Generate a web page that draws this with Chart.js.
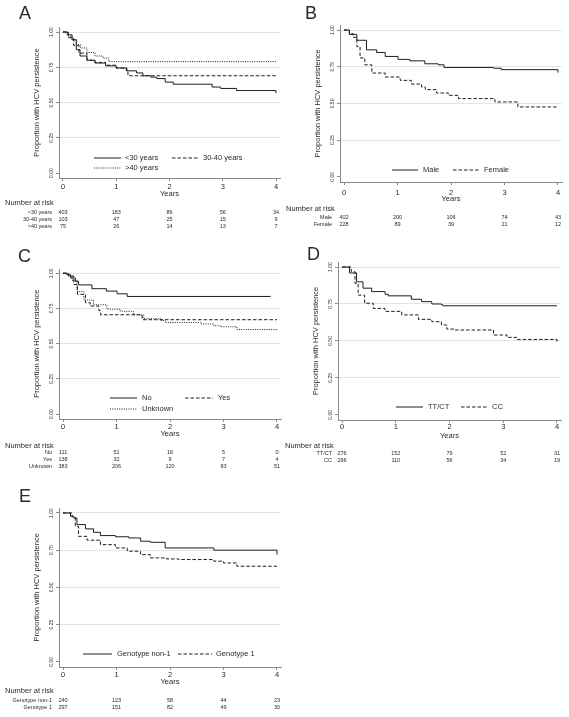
<!DOCTYPE html>
<html>
<head>
<meta charset="utf-8">
<script src="https://cdn.jsdelivr.net/npm/chart.js@4.4.0/dist/chart.umd.min.js"></script>
<style>
    body { margin: 0; background: #fff; width: 569px; height: 717px; position: relative; overflow: hidden; }
    canvas { position: absolute; }
</style>
</head>
<body>
<canvas id="chartA" width="285" height="240" style="left:0;top:0"></canvas>
<canvas id="chartB" width="284" height="240" style="left:285px;top:0"></canvas>
<canvas id="chartC" width="285" height="245" style="left:0;top:240px"></canvas>
<canvas id="chartD" width="284" height="245" style="left:285px;top:240px"></canvas>
<canvas id="chartE" width="285" height="232" style="left:0;top:485px"></canvas>
<script>
// axis ticks
const yearTicks = [0, 1, 2, 3, 4];
const yTicks = [0, 0.25, 0.5, 0.75, 1];
const yTickLabels = ['0.00', '0.25', '0.50', '0.75', '1.00'];

// A - age
const under30Years = [0, 0.08, 0.17, 0.25, 0.32, 0.45, 0.6, 0.8, 1.0, 1.2, 1.38, 1.5, 1.65, 1.76, 1.92, 2.07, 2.8, 2.96, 3.26, 4.0];
const under30Surv = [1, 0.98, 0.945, 0.875, 0.83, 0.80, 0.78, 0.76, 0.745, 0.725, 0.71, 0.69, 0.68, 0.67, 0.645, 0.63, 0.61, 0.60, 0.585, 0.567];
const age3040Years = [0, 0.1, 0.2, 0.3, 0.45, 0.6, 0.8, 1.0, 1.19, 1.22, 4.0];
const age3040Surv = [1, 0.96, 0.905, 0.85, 0.80, 0.785, 0.765, 0.745, 0.72, 0.69, 0.69];
const over40Years = [0, 0.1, 0.17, 0.25, 0.33, 0.45, 0.6, 0.75, 0.86, 4.0];
const over40Surv = [1, 0.97, 0.945, 0.91, 0.887, 0.855, 0.83, 0.815, 0.79, 0.79];
const riskUnder30 = [403, 183, 86, 56, 34];
const risk3040 = [103, 47, 25, 15, 9];
const riskOver40 = [75, 26, 14, 13, 7];

// B - sex
const maleYears = [0, 0.1, 0.24, 0.42, 0.61, 0.77, 1.01, 1.23, 1.51, 1.76, 1.87, 2.79, 2.94, 4.0];
const maleSurv = [1, 0.97, 0.93, 0.865, 0.847, 0.82, 0.80, 0.79, 0.77, 0.763, 0.745, 0.74, 0.73, 0.71];
const femaleYears = [0, 0.1, 0.17, 0.24, 0.3, 0.39, 0.52, 0.77, 1.05, 1.26, 1.45, 1.52, 1.73, 1.95, 2.14, 2.82, 3.25, 4.0];
const femaleSurv = [1, 0.975, 0.95, 0.887, 0.81, 0.763, 0.707, 0.68, 0.657, 0.632, 0.612, 0.594, 0.571, 0.555, 0.533, 0.51, 0.476, 0.476];
const riskMale = [402, 200, 106, 74, 43];
const riskFemale = [228, 89, 39, 21, 12];

// C - No / Yes / Unknown
const noYears = [0, 0.07, 0.14, 0.23, 0.29, 0.54, 0.81, 1.01, 1.2, 3.88];
const noSurv = [1, 0.99, 0.967, 0.943, 0.917, 0.89, 0.873, 0.854, 0.835, 0.835];
const yesYears = [0, 0.1, 0.2, 0.27, 0.42, 0.51, 0.67, 0.7, 1.48, 4.0];
const yesSurv = [1, 0.98, 0.92, 0.85, 0.79, 0.767, 0.735, 0.705, 0.67, 0.67];
const unknownYears = [0, 0.1, 0.17, 0.26, 0.39, 0.57, 0.82, 1.07, 1.32, 1.51, 1.82, 1.91, 2.57, 2.82, 2.94, 3.25, 4.0];
const unknownSurv = [1, 0.98, 0.95, 0.87, 0.81, 0.776, 0.745, 0.73, 0.705, 0.677, 0.665, 0.65, 0.64, 0.627, 0.62, 0.60, 0.60];
const riskNo = [111, 51, 16, 5, 0];
const riskYes = [138, 32, 9, 7, 4];
const riskUnknown = [383, 206, 120, 83, 51];

// D - TT/CT vs CC
const ttctYears = [0, 0.14, 0.27, 0.39, 0.55, 0.8, 0.86, 1.29, 1.48, 1.67, 1.85, 1.88, 4.0];
const ttctSurv = [1, 0.96, 0.9, 0.857, 0.834, 0.816, 0.805, 0.782, 0.766, 0.75, 0.744, 0.738, 0.738];
const ccYears = [0, 0.17, 0.24, 0.3, 0.42, 0.58, 0.8, 1.11, 1.42, 1.67, 1.85, 1.95, 2.1, 2.82, 3.07, 3.25, 4.0];
const ccSurv = [1, 0.97, 0.89, 0.81, 0.755, 0.72, 0.70, 0.676, 0.646, 0.63, 0.608, 0.58, 0.574, 0.54, 0.524, 0.51, 0.494];
const riskTtct = [276, 152, 79, 52, 31];
const riskCc = [266, 110, 56, 34, 19];

// E - genotype
const nonG1Years = [0, 0.14, 0.2, 0.26, 0.42, 0.57, 0.7, 0.98, 1.23, 1.45, 1.63, 1.91, 2.82, 4.0];
const nonG1Surv = [1, 0.978, 0.966, 0.922, 0.893, 0.87, 0.848, 0.84, 0.832, 0.81, 0.803, 0.765, 0.75, 0.72];
const g1Years = [0, 0.17, 0.23, 0.29, 0.45, 0.7, 0.98, 1.2, 1.45, 1.63, 1.94, 2.16, 2.82, 3.0, 3.25, 4.0];
const g1Surv = [1, 0.975, 0.91, 0.843, 0.817, 0.787, 0.765, 0.743, 0.72, 0.698, 0.691, 0.687, 0.676, 0.664, 0.642, 0.642];
const riskNonG1 = [240, 123, 58, 44, 23];
const riskG1 = [297, 151, 82, 49, 30];

const SOLID = [];
const DASHED = [3.5, 2];
const DOTTED = [1, 1.3];
const FONT = '"Liberation Sans", Arial, sans-serif';
const textColor = '#2a2a2a';
const axisColor = '#8a8a8a';
const gridColor = '#e4e4e4';
const lineColor = '#1e1e1e';

const panels = [
    {
        id: 'chartA', letter: 'A', box: [0, 0], area: { l: 59, t: 27.8, r: 280, b: 178 },
        letterPos: [19, 19], tickY: 187, yearsY: 194, header: [5, 203], rowsY: [212, 219, 226], labelRight: 52,
        series: [
            { label: '<30 years', t: under30Years, s: under30Surv, dash: SOLID, risk: riskUnder30, leg: [94, 121, 158, 125] },
            { label: '30-40 years', t: age3040Years, s: age3040Surv, dash: DASHED, risk: risk3040, leg: [172, 198, 158, 203] },
            { label: '>40 years', t: over40Years, s: over40Surv, dash: DOTTED, risk: riskOver40, leg: [94, 121, 168, 125] }
        ]
    },
    {
        id: 'chartB', letter: 'B', box: [285, 0], area: { l: 340, t: 25.6, r: 562, b: 182 },
        letterPos: [305, 19], tickY: 193, yearsY: 199, header: [286, 209], rowsY: [217, 224], labelRight: 332,
        series: [
            { label: 'Male', t: maleYears, s: maleSurv, dash: SOLID, risk: riskMale, leg: [392, 418, 170, 423] },
            { label: 'Female', t: femaleYears, s: femaleSurv, dash: DASHED, risk: riskFemale, leg: [453, 480, 170, 484] }
        ]
    },
    {
        id: 'chartC', letter: 'C', box: [0, 240], area: { l: 59, t: 269, r: 281, b: 419 },
        letterPos: [18, 262], tickY: 427, yearsY: 434, header: [5, 446], rowsY: [452.5, 459.5, 466], labelRight: 52,
        series: [
            { label: 'No', t: noYears, s: noSurv, dash: SOLID, risk: riskNo, leg: [110, 137, 398, 142] },
            { label: 'Yes', t: yesYears, s: yesSurv, dash: DASHED, risk: riskYes, leg: [185, 213, 398, 218] },
            { label: 'Unknown', t: unknownYears, s: unknownSurv, dash: DOTTED, risk: riskUnknown, leg: [110, 137, 409, 142] }
        ]
    },
    {
        id: 'chartD', letter: 'D', box: [285, 240], area: { l: 338, t: 262.6, r: 561, b: 420 },
        letterPos: [307, 260], tickY: 427, yearsY: 436, header: [285, 446], rowsY: [453, 460], labelRight: 332,
        series: [
            { label: 'TT/CT', t: ttctYears, s: ttctSurv, dash: SOLID, risk: riskTtct, leg: [396, 423, 407, 428] },
            { label: 'CC', t: ccYears, s: ccSurv, dash: DASHED, risk: riskCc, leg: [461, 488, 407, 492] }
        ]
    },
    {
        id: 'chartE', letter: 'E', box: [0, 485], area: { l: 59, t: 508.5, r: 281, b: 667 },
        letterPos: [19, 502], tickY: 675, yearsY: 682, header: [5, 691], rowsY: [700, 707], labelRight: 52,
        series: [
            { label: 'Genotype non-1', t: nonG1Years, s: nonG1Surv, dash: SOLID, risk: riskNonG1, leg: [83, 112, 654, 117] },
            { label: 'Genotype 1', t: g1Years, s: g1Surv, dash: DASHED, risk: riskG1, leg: [178, 212, 654, 216] }
        ]
    }
];

// draws letter, tick labels, titles, legend and number-at-risk table
const kmDecor = {
    id: 'kmDecor',
    afterDraw(chart, args, opts) {
        const p = opts.panel;
        const ctx = chart.ctx;
        const ox = p.box[0], oy = p.box[1];
        const xs = chart.scales.x, ys = chart.scales.y;
        const ca = chart.chartArea;
        ctx.save();
        ctx.fillStyle = textColor;

        ctx.font = '18px ' + FONT;
        ctx.textAlign = 'left';
        ctx.textBaseline = 'alphabetic';
        ctx.fillText(p.letter, p.letterPos[0] - ox, p.letterPos[1] - oy);

        // rotated y tick labels
        ctx.font = '5px ' + FONT;
        ctx.textAlign = 'center';
        ctx.textBaseline = 'middle';
        yTicks.forEach((v, i) => {
            ctx.save();
            ctx.translate(ca.left - 7, ys.getPixelForValue(v));
            ctx.rotate(-Math.PI / 2);
            ctx.fillText(yTickLabels[i], 0, 0);
            ctx.restore();
        });

        // y title
        ctx.font = '7.5px ' + FONT;
        ctx.save();
        ctx.translate(ca.left - 22, (ys.getPixelForValue(0) + ys.getPixelForValue(1)) / 2);
        ctx.rotate(-Math.PI / 2);
        ctx.fillText('Proportion with HCV persistence', 0, 0);
        ctx.restore();

        // x tick labels and title
        yearTicks.forEach(v => ctx.fillText(String(v), xs.getPixelForValue(v), p.tickY - oy));
        ctx.fillText('Years', (xs.getPixelForValue(0) + xs.getPixelForValue(4)) / 2, p.yearsY - oy);

        // legend
        ctx.textAlign = 'left';
        p.series.forEach(sr => {
            const [x1, x2, y, tx] = sr.leg;
            ctx.save();
            ctx.strokeStyle = lineColor;
            ctx.lineWidth = 1;
            ctx.setLineDash(sr.dash);
            ctx.beginPath();
            ctx.moveTo(x1 - ox, y - oy);
            ctx.lineTo(x2 - ox, y - oy);
            ctx.stroke();
            ctx.restore();
            ctx.fillText(sr.label, tx - ox, y - oy);
        });

        // number at risk
        ctx.fillText('Number at risk', p.header[0] - ox, p.header[1] - oy);
        ctx.font = '5.5px ' + FONT;
        p.series.forEach((sr, i) => {
            const y = p.rowsY[i] - oy;
            ctx.textAlign = 'right';
            ctx.fillText(sr.label, p.labelRight - ox, y);
            ctx.textAlign = 'center';
            sr.risk.forEach((n, j) => ctx.fillText(String(n), xs.getPixelForValue(yearTicks[j]), y));
        });
        ctx.restore();
    }
};

function buildChart(p) {
    const canvas = document.getElementById(p.id);
    const ox = p.box[0], oy = p.box[1];
    const tickLen = 3;
    new Chart(canvas, {
        type: 'line',
        data: {
            datasets: p.series.map(sr => ({
                label: sr.label,
                data: sr.t.map((x, i) => ({ x: x, y: sr.s[i] })),
                stepped: true,
                borderColor: lineColor,
                borderWidth: 1,
                borderDash: sr.dash,
                pointRadius: 0,
                fill: false
            }))
        },
        options: {
            responsive: false,
            animation: false,
            layout: {
                padding: {
                    left: p.area.l - ox - tickLen,
                    top: p.area.t - oy,
                    right: canvas.width - (p.area.r - ox),
                    bottom: canvas.height - (p.area.b - oy) - tickLen
                }
            },
            plugins: {
                legend: { display: false },
                tooltip: { enabled: false },
                kmDecor: { panel: p }
            },
            scales: {
                x: {
                    type: 'linear',
                    min: -0.075,
                    max: 4.075,
                    afterBuildTicks: s => { s.ticks = yearTicks.map(v => ({ value: v })); },
                    afterFit: s => { s.height = tickLen; },
                    ticks: { display: false },
                    grid: { drawOnChartArea: false, drawTicks: true, tickLength: tickLen, color: axisColor },
                    border: { color: axisColor, width: 1 }
                },
                y: {
                    type: 'linear',
                    min: -0.035,
                    max: 1.03,
                    afterBuildTicks: s => { s.ticks = yTicks.map(v => ({ value: v })); },
                    afterFit: s => { s.width = tickLen; },
                    ticks: { display: false },
                    grid: {
                        drawTicks: true,
                        tickLength: tickLen,
                        tickColor: axisColor,
                        color: c => (c.tick && c.tick.value === 0) ? 'rgba(0,0,0,0)' : gridColor
                    },
                    border: { color: axisColor, width: 1 }
                }
            }
        },
        plugins: [kmDecor]
    });
}

panels.forEach(buildChart);
</script>
</body>
</html>
